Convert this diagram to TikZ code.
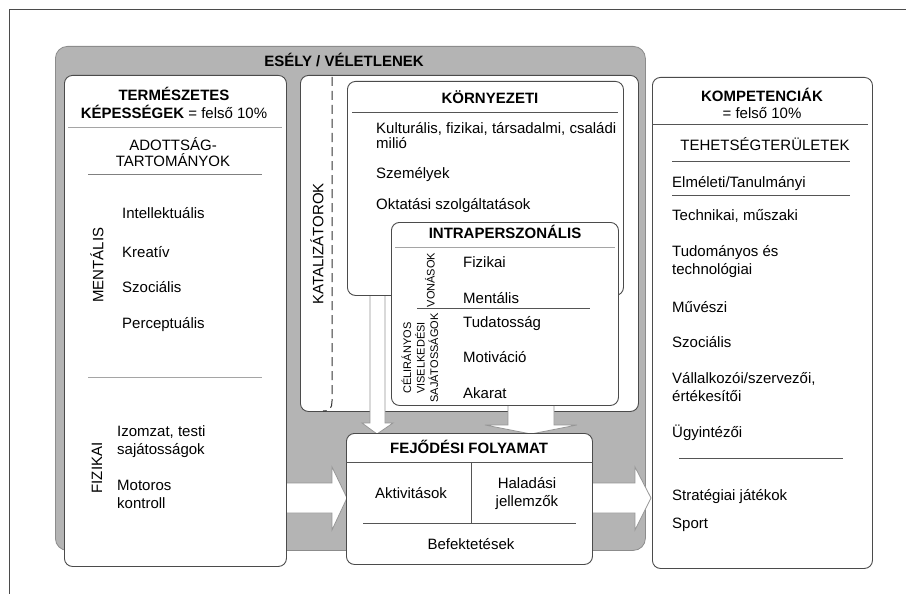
\documentclass[tikz,border=0pt]{standalone}
\usepackage{fontspec}
\setmainfont{Liberation Sans}
\usetikzlibrary{calc}
\definecolor{bggray}{RGB}{180,180,180}
\definecolor{edgegray}{RGB}{140,140,140}
\definecolor{boxedge}{RGB}{75,75,75}
\definecolor{sepdark}{RGB}{85,85,85}
\definecolor{seplight}{RGB}{165,165,165}
\definecolor{arrowedge}{RGB}{150,150,150}
\begin{document}
\begin{tikzpicture}[x=1pt,y=-1pt,
  font=\fontsize{15}{18}\selectfont,
  wbox/.style={draw=boxedge, line width=0.9pt, fill=white, rounded corners=8pt, inner sep=0pt, anchor=north west},
  txt/.style={inner sep=0pt, anchor=base west},
  ctxt/.style={inner sep=0pt, anchor=base},
  rtxt/.style={inner sep=0pt, rotate=90, anchor=center},
  smallrot/.style={inner sep=0pt, rotate=90, anchor=center, align=center, font=\fontsize{11}{13.5}\selectfont},
  barrow/.style={draw=arrowedge, line width=0.8pt, fill=white, line join=miter},
  sepd/.style={draw=sepdark, line width=0.8pt},
  sepl/.style={draw=seplight, line width=0.9pt}
]
\useasboundingbox (0,0) rectangle (906,594);
% outer frame
\draw[boxedge, line width=0.8pt] (9,594) -- (9,9) -- (906,9);

% chance background
\node[draw=edgegray, line width=0.8pt, fill=bggray, rounded corners=12pt, inner sep=0pt, anchor=north west,
      minimum width=590pt, minimum height=504pt] (chance) at (55,46) {};
\node[ctxt, font=\fontsize{15}{18}\selectfont\bfseries] (chancetitle) at (344,67) {ESÉLY / VÉLETLENEK};

% catalysts box
\node[wbox, minimum width=338pt, minimum height=336pt] (kat) at (300,75) {};
\draw[black!80, line width=1pt, dash pattern=on 9pt off 5pt] (332,77) -- (332,401) .. controls (332,408) and (330,411) .. (323,411);
\node[rtxt] (katlabel) at (317,244) {KATALIZÁTOROK};

% arrow end points
\coordinate (natR) at (286,498);
\coordinate (fejL) at (347,498);
\coordinate (fejR) at (592,498);
\coordinate (kompL) at (651,498);
\coordinate (envB) at (377,294);
\coordinate (intraB) at (531,404);
\coordinate (fejT) at (0,434);

% arrows (drawn below the boxes they join)
\filldraw[barrow] ($(natR)+(0,-15)$) -- ($(fejL)+(-15,-15)$) -- ($(fejL)+(-15,-31)$) -- (fejL) -- ($(fejL)+(-15,32)$) -- ($(fejL)+(-15,15)$) -- ($(natR)+(0,15)$) -- cycle;
\filldraw[barrow] ($(fejR)+(0,-15)$) -- ($(kompL)+(-16,-15)$) -- ($(kompL)+(-16,-31)$) -- (kompL) -- ($(kompL)+(-16,32)$) -- ($(kompL)+(-16,15)$) -- ($(fejR)+(0,15)$) -- cycle;
\filldraw[barrow] ($(envB)+(-7,0)$) -- (370,423) -- (362,423) -- (fejT -| envB) -- (393,423) -- (385,423) -- ($(envB)+(8,0)$) -- cycle;
\filldraw[barrow] ($(intraB)+(-23,0)$) -- (508,425) -- (485,425) -- (fejT -| intraB) -- (577,425) -- (554,425) -- ($(intraB)+(23,0)$) -- cycle;

% environmental
\node[wbox, minimum width=276pt, minimum height=214pt] (env) at (347,81) {};
\node[ctxt, font=\fontsize{15}{18}\selectfont\bfseries] (envtitle) at (490,103) {KÖRNYEZETI};
\draw[sepd] (352,112) -- (618,112);
\node[txt] (env1) at (376,133) {Kulturális, fizikai, társadalmi, családi};
\node[txt] (env1b) at (376,148) {milió};
\node[txt] (env2) at (376,178) {Személyek};
\node[txt] (env3) at (376,209) {Oktatási szolgáltatások};

% intrapersonal
\node[wbox, minimum width=227pt, minimum height=183pt] (intra) at (391,222) {};
\node[ctxt, font=\fontsize{15}{18}\selectfont\bfseries] (intratitle) at (505,238) {INTRAPERSZONÁLIS};
\draw[sepl] (395,247) -- (615,247);
\node[smallrot] (traits) at (430,280) {VONÁSOK};
\node[txt] (tr1) at (463,267) {Fizikai};
\node[txt] (tr2) at (463,303) {Mentális};
\draw[sepd] (417,308) -- (590,308);
\node[smallrot] (goal) at (420,358) {CÉLIRÁNYOS\\VISELKEDÉSI\\SAJÁTOSSÁGOK};
\node[txt] (g1) at (463,327) {Tudatosság};
\node[txt] (g2) at (463,362) {Motiváció};
\node[txt] (g3) at (463,398) {Akarat};

% natural abilities
\node[wbox, minimum width=222pt, minimum height=491pt] (nat) at (64,75) {};
\node[ctxt, font=\fontsize{15}{18}\selectfont\bfseries] (nat1) at (174,100) {TERMÉSZETES};
\node[ctxt] (nat2) at (174,118) {\textbf{KÉPESSÉGEK} = felső 10\%};
\draw[sepl] (68,127) -- (282,127);
\node[ctxt] (dom1) at (173,150) {ADOTTSÁG-};
\node[ctxt] (dom2) at (173,166) {TARTOMÁNYOK};
\draw[draw=gray, line width=0.9pt] (88,174) -- (262,174);
\node[rtxt] (mental) at (97,265) {MENTÁLIS};
\node[txt] (m1) at (122,218) {Intellektuális};
\node[txt] (m2) at (122,257) {Kreatív};
\node[txt] (m3) at (122,292) {Szociális};
\node[txt] (m4) at (122,328) {Perceptuális};
\draw[sepl] (88,377) -- (262,377);
\node[rtxt] (phys) at (97,468) {FIZIKAI};
\node[txt] (p1) at (117,436) {Izomzat, testi};
\node[txt] (p1b) at (117,454) {sajátosságok};
\node[txt] (p2) at (117,490) {Motoros};
\node[txt] (p2b) at (117,508) {kontroll};

% developmental process
\node[wbox, minimum width=246pt, minimum height=131pt] (fej) at (346,433) {};
\node[ctxt, font=\fontsize{15}{18}\selectfont\bfseries] (fejtitle) at (469,453) {FEJŐDÉSI FOLYAMAT};
\draw[sepd] (fej.west |- 0,462) -- (fej.east |- 0,462);
\draw[sepd] (471,462) -- (471,523);
\draw[sepd] (363,523) -- (576,523);
\node[ctxt] (act) at (411,498) {Aktivitások};
\node[ctxt] (prog1) at (527,488) {Haladási};
\node[ctxt] (prog2) at (527,506) {jellemzők};
\node[ctxt] (inv) at (471,549) {Befektetések};

% competencies
\node[wbox, minimum width=220pt, minimum height=491pt] (komp) at (652,77) {};
\node[ctxt, font=\fontsize{15}{18}\selectfont\bfseries] (komptitle) at (762,102) {KOMPETENCIÁK};
\node[ctxt] (komp2) at (762,118) {= felső 10\%};
\draw[sepd] (652,124) -- (868,124);
\node[ctxt] (fields) at (765,150) {TEHETSÉGTERÜLETEK};
\draw[sepd] (672,161) -- (850,161);
\node[txt] (f1) at (672,187) {Elméleti/Tanulmányi};
\draw[sepd] (672,195) -- (850,195);
\node[txt] (f2) at (672,220) {Technikai, műszaki};
\node[txt] (f3) at (672,256) {Tudományos és};
\node[txt] (f3b) at (672,274) {technológiai};
\node[txt] (f4) at (672,312) {Művészi};
\node[txt] (f5) at (672,347) {Szociális};
\node[txt] (f6) at (672,383) {Vállalkozói/szervezői,};
\node[txt] (f6b) at (672,401) {értékesítői};
\node[txt] (f7) at (672,437) {Ügyintézői};
\draw[sepd] (679,458) -- (843,458);
\node[txt] (f8) at (672,500) {Stratégiai játékok};
\node[txt] (f9) at (672,528) {Sport};
\end{tikzpicture}
\end{document}
